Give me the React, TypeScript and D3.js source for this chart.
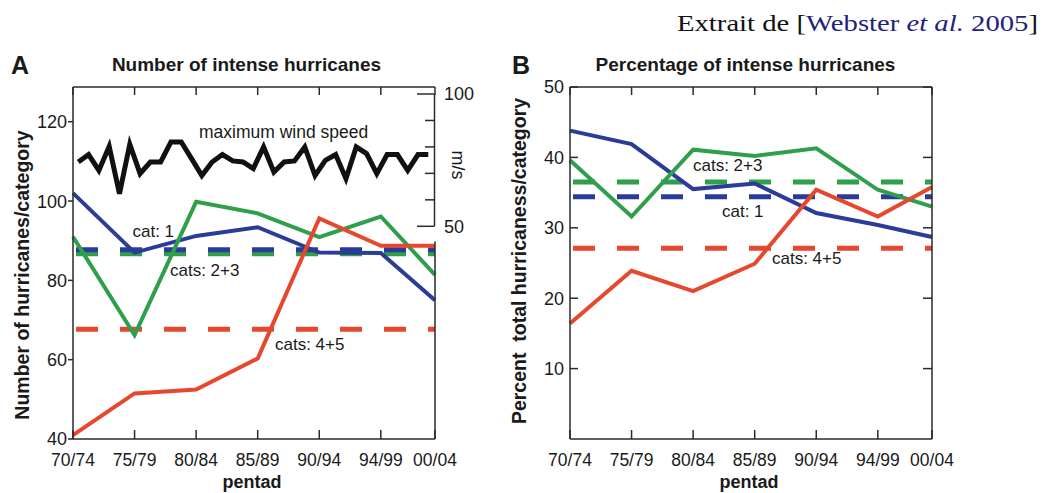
import React from "react";
import * as d3 from "d3";

// ---------- data ----------
const pentads = ["70/74", "75/79", "80/84", "85/89", "90/94", "94/99", "00/04"];
const pentadX = [0, 5, 10, 15, 20, 25, 29.4];

// Panel A: number of hurricanes per category
const countCat1 = [102, 87, 91.2, 93.4, 87, 86.9, 75];
const countCat23 = [91, 66.2, 99.8, 96.9, 90.9, 96.1, 81.4];
const countCat45 = [41, 51.5, 52.5, 60.3, 95.6, 88.7, 88.7];
const meanCountCat1 = 87.7;
const meanCountCat23 = 86.7;
const meanCountCat45 = 67.7;

// maximum wind speed (m/s), yearly 1970-2004
const windSpeed = [
  74.3, 77.1, 71.1, 80.2, 62.3, 81, 69.9, 74.3, 74.3, 81.9, 81.9, 75.6, 69.2, 74.3,
  77.1, 74.7, 74.3, 71.8, 80, 70.5, 74.3, 74.7, 80, 69.2, 74.9, 77.1, 68, 80,
  77.5, 69.9, 77.1, 77.1, 71.1, 77.1, 77.1,
];

// Panel B: percentage of hurricanes per category
const pctCat1 = [43.8, 41.9, 35.5, 36.3, 32.1, 30.4, 28.7];
const pctCat23 = [39.6, 31.6, 41.1, 40.2, 41.3, 35.4, 33];
const pctCat45 = [16.4, 23.9, 21, 24.9, 35.4, 31.6, 35.8];
const meanPctCat1 = 34.4;
const meanPctCat23 = 36.5;
const meanPctCat45 = 27.1;

const countTicks = [40, 60, 80, 100, 120];
const windTicks = [50, 60, 70, 80, 90, 100];
const windTickLabels = [50, 100];
const pctTicks = [10, 20, 30, 40, 50];

// ---------- styles ----------
const BLUE = "#2a3c98";
const GREEN = "#2f9f4b";
const RED = "#e6472f";
const AXIS = "#2a2a2a";
const FONT = "'Liberation Sans', Arial, Helvetica, sans-serif";

type Series = { values: number[]; color: string };

function Panel(props: {
  x0: number;
  x1: number;
  yTop: number;
  yBot: number;
  yDomain: [number, number];
  yTicks: number[];
  series: Series[];
  means: { value: number; color: string }[];
  outwardY: boolean;
  mirrorY: boolean;
  rightFrom: number;
}) {
  const { x0, x1, yTop, yBot, yDomain, yTicks, series, means, outwardY, mirrorY, rightFrom } = props;
  const x = d3.scaleLinear().domain([pentadX[0], pentadX[pentadX.length - 1]]).range([x0, x1]);
  const y = d3.scaleLinear().domain(yDomain).range([yBot, yTop]);
  const line = d3
    .line<number>()
    .x((_, i) => x(pentadX[i]))
    .y((v) => y(v));
  return (
    <g>
      {means.map((m, i) => (
        <line
          key={"m" + i}
          x1={x0}
          x2={x1}
          y1={y(m.value)}
          y2={y(m.value)}
          stroke={m.color}
          strokeWidth={5}
          strokeDasharray="22 22"
          strokeDashoffset={-3}
        />
      ))}
      {series.map((s, i) => (
        <path
          key={"s" + i}
          d={line(s.values) || ""}
          fill="none"
          stroke={s.color}
          strokeWidth={4}
          strokeLinejoin="miter"
        />
      ))}
      {/* frame */}
      <line x1={x0} x2={x1} y1={yTop} y2={yTop} stroke={AXIS} strokeWidth={1.5} />
      <line x1={x0} x2={x1} y1={yBot} y2={yBot} stroke={AXIS} strokeWidth={1.5} />
      <line x1={x0} x2={x0} y1={yTop} y2={yBot} stroke={AXIS} strokeWidth={1.5} />
      <line x1={x1} x2={x1} y1={rightFrom} y2={yBot} stroke={AXIS} strokeWidth={1.5} />
      {/* x ticks */}
      {pentadX.map((p, i) => (
        <g key={"xt" + i}>
          <line x1={x(p)} x2={x(p)} y1={yBot} y2={yBot - 9} stroke={AXIS} strokeWidth={1.5} />
          <line x1={x(p)} x2={x(p)} y1={yTop} y2={yTop + 8} stroke={AXIS} strokeWidth={1.5} />
          <text
            x={x(p)}
            y={466}
            textAnchor="middle"
            fontSize={17.5}
            fontFamily={FONT}
            fill="#1a1a1a"
          >
            {pentads[i]}
          </text>
        </g>
      ))}
      {/* y ticks */}
      {yTicks.map((t) => (
        <g key={"yt" + t}>
          <line
            x1={x0}
            x2={outwardY ? x0 - 5 : x0 + 8}
            y1={y(t)}
            y2={y(t)}
            stroke={AXIS}
            strokeWidth={1.5}
          />
          {mirrorY && (
            <line x1={x1} x2={x1 - 9} y1={y(t)} y2={y(t)} stroke={AXIS} strokeWidth={1.5} />
          )}
          <text
            x={x0 - 6}
            y={y(t)}
            dy="0.36em"
            textAnchor="end"
            fontSize={18}
            fontFamily={FONT}
            fill="#1a1a1a"
          >
            {t}
          </text>
        </g>
      ))}
      <text
        x={(x0 + x1) / 2 - 2}
        y={488}
        textAnchor="middle"
        fontSize={18}
        fontWeight="bold"
        fontFamily={FONT}
        fill="#1a1a1a"
      >
        pentad
      </text>
    </g>
  );
}

export default function App() {
  const aX0 = 73;
  const aX1 = 435;
  const top = 87;
  const bot = 439;
  const bX0 = 570;
  const bX1 = 932;

  const windY = d3.scaleLinear().domain([50, 100]).range([226.3, 94]);
  const windX = d3.scaleLinear().domain([0, windSpeed.length - 1]).range([78.3, 428.3]);
  const windLine = d3
    .line<number>()
    .x((_, i) => windX(i))
    .y((v) => windY(v));

  const textStyle = { fontFamily: FONT, fill: "#1a1a1a" } as const;

  return (
    <svg
      width={1044}
      height={493}
      viewBox="0 0 1044 493"
      style={{ position: "absolute", left: 0, top: 0, background: "#fff" }}
    >
      <rect width={1044} height={493} fill="#fff" />

      {/* source note */}
      <text
        x={1038}
        y={31}
        textAnchor="end"
        fontSize={23}
        fontFamily="'Liberation Serif', 'DejaVu Serif', serif"
        fill="#111"
        textLength={361}
        lengthAdjust="spacingAndGlyphs"
      >
        Extrait de [<tspan fill="#22227e">Webster </tspan>
        <tspan fill="#22227e" fontStyle="italic">
          et al.
        </tspan>
        <tspan fill="#22227e"> 2005</tspan>]
      </text>

      {/* ---------- Panel A ---------- */}
      <text x={11} y={74} fontSize={25} fontWeight="bold" {...textStyle}>
        A
      </text>
      <text x={246.5} y={71} textAnchor="middle" fontSize={19} fontWeight="bold" {...textStyle}>
        Number of intense hurricanes
      </text>
      <text
        transform="translate(29,275) rotate(-90)"
        textAnchor="middle"
        fontSize={19.5}
        fontWeight="bold"
        {...textStyle}
      >
        Number of hurricanes/category
      </text>

      <Panel
        x0={aX0}
        x1={aX1}
        yTop={top}
        yBot={bot}
        yDomain={[40, 128.75]}
        yTicks={countTicks}
        series={[
          { values: countCat1, color: BLUE },
          { values: countCat23, color: GREEN },
          { values: countCat45, color: RED },
        ]}
        means={[
          { value: meanCountCat45, color: RED },
          { value: meanCountCat23, color: GREEN },
          { value: meanCountCat1, color: BLUE },
        ]}
        outwardY={true}
        mirrorY={false}
        rightFrom={241.5}
      />

      {/* wind speed line and its axis */}
      <path
        d={windLine(windSpeed) || ""}
        fill="none"
        stroke="#111"
        strokeWidth={5}
        strokeLinejoin="miter"
      />
      <text x={199} y={138} fontSize={17.5} {...textStyle}>
        maximum wind speed
      </text>
      <line x1={434.5} x2={434.5} y1={windY(100)} y2={windY(50)} stroke={AXIS} strokeWidth={1.5} />
      {windTicks.map((t) => (
        <line
          key={"w" + t}
          x1={434.5}
          x2={windTickLabels.includes(t) ? 417 : 425}
          y1={windY(t)}
          y2={windY(t)}
          stroke={AXIS}
          strokeWidth={1.5}
        />
      ))}
      {windTickLabels.map((t) => (
        <text key={"wl" + t} x={444} y={windY(t)} dy="0.36em" fontSize={18} {...textStyle}>
          {t}
        </text>
      ))}
      <text
        transform="translate(452,165) rotate(90)"
        textAnchor="middle"
        fontSize={18}
        {...textStyle}
      >
        m/s
      </text>

      <text x={132.5} y={237} fontSize={17} {...textStyle}>
        cat: 1
      </text>
      <text x={170} y={276} fontSize={17} {...textStyle}>
        cats: 2+3
      </text>
      <text x={275} y={350} fontSize={17} {...textStyle}>
        cats: 4+5
      </text>

      {/* ---------- Panel B ---------- */}
      <text x={512} y={74} fontSize={25} fontWeight="bold" {...textStyle}>
        B
      </text>
      <text x={745.5} y={71} textAnchor="middle" fontSize={19} fontWeight="bold" {...textStyle}>
        Percentage of intense hurricanes
      </text>
      <text
        transform="translate(526,261) rotate(-90)"
        textAnchor="middle"
        fontSize={19.5}
        fontWeight="bold"
        style={{ whiteSpace: "pre" }}
        {...textStyle}
      >
        {"Percent  total hurricaness/category"}
      </text>

      <Panel
        x0={bX0}
        x1={bX1}
        yTop={top}
        yBot={bot}
        yDomain={[0, 50]}
        yTicks={pctTicks}
        series={[
          { values: pctCat1, color: BLUE },
          { values: pctCat23, color: GREEN },
          { values: pctCat45, color: RED },
        ]}
        means={[
          { value: meanPctCat45, color: RED },
          { value: meanPctCat23, color: GREEN },
          { value: meanPctCat1, color: BLUE },
        ]}
        outwardY={false}
        mirrorY={true}
        rightFrom={top}
      />

      <text x={693} y={171} fontSize={17} {...textStyle}>
        cats: 2+3
      </text>
      <text x={722} y={217} fontSize={17} {...textStyle}>
        cat: 1
      </text>
      <text x={772} y={264} fontSize={17} {...textStyle}>
        cats: 4+5
      </text>
    </svg>
  );
}
